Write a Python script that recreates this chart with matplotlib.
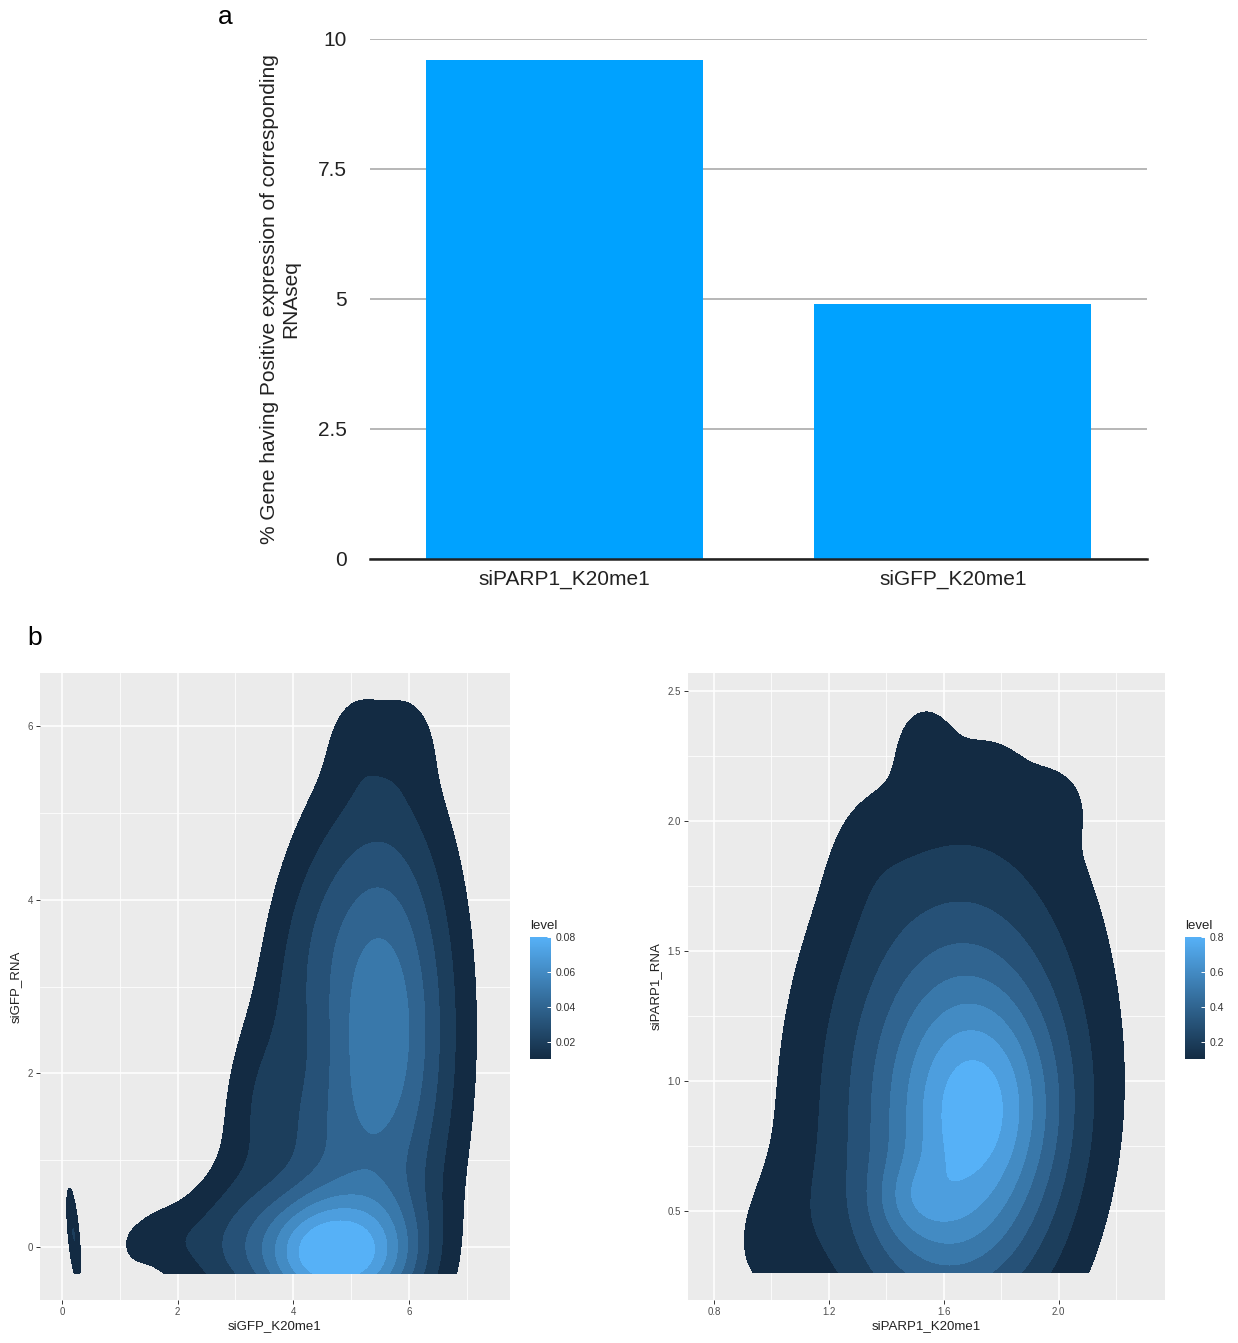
import numpy as np
import matplotlib.pyplot as plt
from matplotlib.colors import LinearSegmentedColormap, Normalize
import matplotlib as mpl

plt.rcParams['font.family'] = ['Liberation Sans', 'DejaVu Sans']

# ---- panel a data
bar_labels = ['siPARP1_K20me1', 'siGFP_K20me1']
bar_values = [9.6, 4.9]
bar_ticks = [0, 2.5, 5, 7.5, 10]
bar_ticklabels = ['0', '2.5', '5', '7.5', '10']

# ---- panel b: density modes (x, y, sx, sy, rho, height)
gfp_mx = [4.3, 5.3, 5.52, 3.0, 1.6, 3.35, 4.1, 5.1, 6.0, 0.2, 1.3, 4.3]
gfp_my = [-0.1, -0.1, 2.5, 0.0, 0.1, 1.6, 3.4, 5.85, 5.85, 0.15, 0.0, 1.2]
gfp_sx = [0.65, 0.7, 0.88, 0.8, 0.5, 0.5, 0.6, 0.35, 0.35, 0.1, 0.15, 0.6]
gfp_sy = [0.5, 0.5, 1.85, 0.55, 0.28, 0.8, 1.0, 0.4, 0.4, 0.45, 0.12, 0.6]
gfp_rho = [0.0, 0.0, 0.0, 0.0, 0.0, 0.2, 0.3, 0.0, 0.0, -0.6, 0.0, 0.0]
gfp_h = [0.055, 0.045, 0.058, 0.025, 0.01, 0.014, 0.011, 0.006, 0.006, 0.02, 0.005, 0.012]
gfp_levels = [0.01, 0.02, 0.03, 0.04, 0.05, 0.06, 0.07, 0.08]
gfp_xrange = (0.0, 7.7)
gfp_yrange = (-0.3, 6.6)

parp_mx = [1.74, 1.64, 1.58, 1.0, 1.53, 1.75, 1.99, 1.5, 1.33, 1.58]
parp_my = [0.88, 0.92, 1.05, 0.4, 2.3, 2.2, 2.07, 0.55, 1.88, 0.4]
parp_sx = [0.19, 0.29, 0.41, 0.15, 0.07, 0.1, 0.08, 0.1, 0.1, 0.2]
parp_sy = [0.32, 0.62, 0.85, 0.2, 0.12, 0.1, 0.1, 0.1, 0.18, 0.2]
parp_rho = [0.0, 0.0, 0.25, 0.3, 0.0, 0.0, 0.0, 0.0, 0.0, 0.0]
parp_h = [0.39, 0.34, 0.17, 0.06, 0.07, 0.03, 0.05, 0.11, 0.03, 0.15]
parp_levels = [0.1, 0.2, 0.3, 0.4, 0.5, 0.6, 0.7, 0.8]
parp_xrange = (0.71, 2.37)
parp_yrange = (0.265, 2.57)


def density(xr, yr, mx, my, sx, sy, rho, h):
    x = np.linspace(xr[0], xr[1], 400)
    y = np.linspace(yr[0], yr[1], 400)
    X, Y = np.meshgrid(x, y)
    Z = np.zeros_like(X)
    for i in range(len(mx)):
        u = (X - mx[i]) / sx[i]
        v = (Y - my[i]) / sy[i]
        q = (u**2 - 2*rho[i]*u*v + v**2) / (1 - rho[i]**2)
        Z += h[i] * np.exp(-0.5*q)
    return X, Y, Z


W, H = 1238, 1343
fig = plt.figure(figsize=(W/100, H/100), dpi=100)

# ================= panel a
ax = fig.add_axes([370/W, 1-559/H, 777/W, 520/H])
ax.bar(range(len(bar_values)), bar_values, width=0.713, color='#00A2FF', zorder=3)
ax.set_xlim(-0.5, 1.5)
ax.set_ylim(0, 10)
ax.set_yticks(bar_ticks)
ax.set_yticklabels(bar_ticklabels)
ax.set_xticks(range(len(bar_labels)))
ax.set_xticklabels(bar_labels)
ax.yaxis.grid(True, color='#AAAAAA', lw=1.2)
ax.set_axisbelow(True)
for s in ['left', 'right', 'top']:
    ax.spines[s].set_visible(False)
ax.spines['bottom'].set_color('#222222')
ax.spines['bottom'].set_linewidth(1.8)
ax.spines['bottom'].set_zorder(4)
ax.tick_params(axis='y', length=0, pad=17, labelsize=15, labelcolor='#222222')
ax.tick_params(axis='x', length=0, pad=8, labelsize=15, labelcolor='#222222')
ax.set_ylabel('% Gene having Positive expression of corresponding\nRNAseq',
              fontsize=15, color='#222222', linespacing=1.15)
ax.yaxis.set_label_coords(-0.09, 0.5)
fig.text(225/W, 1-17/H, 'a', fontsize=19, ha='center', va='center')
fig.text(35/W, 1-638/H, 'b', fontsize=19, ha='center', va='center')

# ================= panel b
cmap = LinearSegmentedColormap.from_list('gg', ['#132B43', '#56B1F7'])


def gg_panel(rect, X, Y, Z, levels, xlim, ylim, xt, yt, xminor, yminor,
             xlabel, ylabel, fmt):
    a = fig.add_axes(rect)
    a.set_facecolor('#EBEBEB')
    norm = Normalize(levels[0], levels[-1])
    cols = [cmap(norm(l)) for l in levels]
    a.contourf(X, Y, Z, levels=levels + [10.0], colors=cols, zorder=2)
    a.set_xlim(*xlim)
    a.set_ylim(*ylim)
    a.set_xticks(xt)
    a.set_yticks(yt)
    a.set_xticks(xminor, minor=True)
    a.set_yticks(yminor, minor=True)
    a.set_xticklabels([fmt(v) for v in xt])
    a.set_yticklabels([fmt(v) for v in yt])
    a.grid(True, which='major', color='white', lw=1.1, zorder=1)
    a.grid(True, which='minor', color='white', lw=0.55, zorder=1)
    a.set_axisbelow(True)
    for s in a.spines.values():
        s.set_visible(False)
    a.tick_params(which='major', length=3, width=0.7, color='#333333',
                  labelsize=7, labelcolor='#4D4D4D', pad=2)
    a.tick_params(which='minor', length=0)
    a.set_xlabel(xlabel, fontsize=9.5, color='#222222', labelpad=2)
    a.set_ylabel(ylabel, fontsize=9.5, color='#222222', labelpad=4)
    return a, norm


def gg_bar(rect, norm, ticks, fmt):
    cax = fig.add_axes(rect)
    cb = mpl.colorbar.ColorbarBase(cax, cmap=cmap, norm=norm, orientation='vertical')
    cb.outline.set_visible(False)
    cb.set_ticks(ticks)
    cb.set_ticklabels([fmt(t) for t in ticks])
    cax.tick_params(length=3, width=0.7, color='white', direction='in',
                    labelsize=7.5, labelcolor='#333333', pad=3)
    cax.text(0, 1.04, 'level', transform=cax.transAxes, fontsize=9.5,
             color='#222222', ha='left', va='bottom')


X, Y, Z = density(gfp_xrange, gfp_yrange, gfp_mx, gfp_my, gfp_sx, gfp_sy, gfp_rho, gfp_h)
a1, n1 = gg_panel([40/W, 1-1300/H, 470/W, 627/H], X, Y, Z, gfp_levels,
                  (-0.38, 7.75), (-0.61, 6.61), [0, 2, 4, 6], [0, 2, 4, 6],
                  [1, 3, 5, 7], [1, 3, 5], 'siGFP_K20me1', 'siGFP_RNA',
                  lambda v: '%d' % v)
gg_bar([530/W, 1-1059/H, 21/W, 122/H], n1, [0.02, 0.04, 0.06, 0.08],
       lambda v: '%.2f' % v)

X, Y, Z = density(parp_xrange, parp_yrange, parp_mx, parp_my, parp_sx, parp_sy, parp_rho, parp_h)
a2, n2 = gg_panel([688/W, 1-1300/H, 477/W, 627/H], X, Y, Z, parp_levels,
                  (0.71, 2.37), (0.158, 2.57), [0.8, 1.2, 1.6, 2.0],
                  [0.5, 1.0, 1.5, 2.0, 2.5], [1.0, 1.4, 1.8, 2.2],
                  [0.75, 1.25, 1.75, 2.25], 'siPARP1_K20me1', 'siPARP1_RNA',
                  lambda v: '%.1f' % v)
gg_bar([1185/W, 1-1059/H, 20/W, 122/H], n2, [0.2, 0.4, 0.6, 0.8],
       lambda v: '%.1f' % v)

fig.savefig('out.png', dpi=100)
